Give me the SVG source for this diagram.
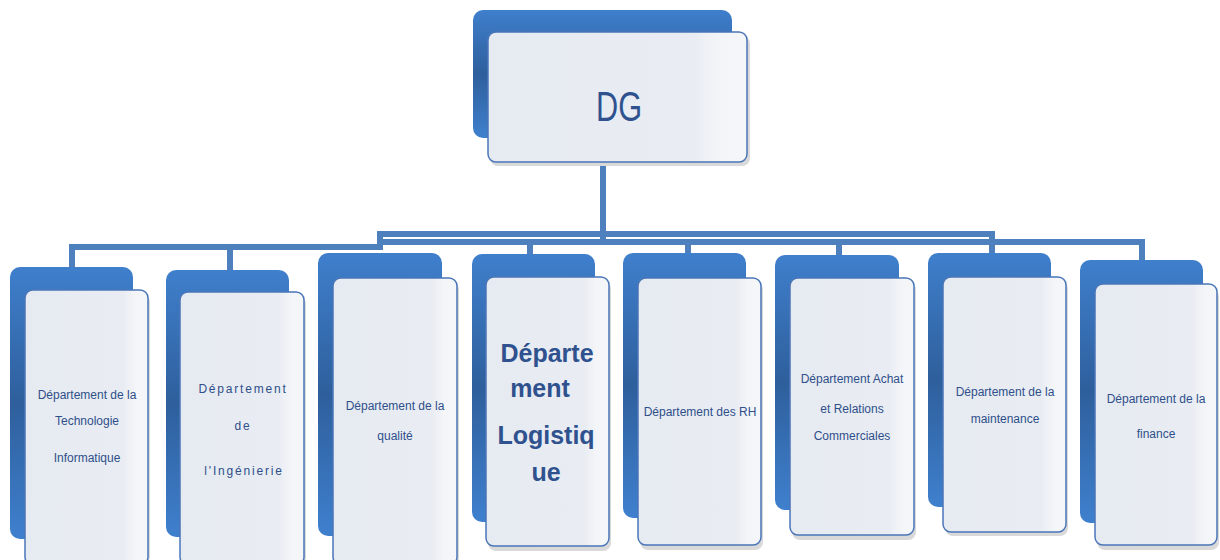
<svg xmlns="http://www.w3.org/2000/svg" width="1220" height="560" viewBox="0 0 1220 560">
<defs>
<linearGradient id="backG" x1="0" y1="0" x2="0" y2="1">
<stop offset="0" stop-color="#3f7fcc"/>
<stop offset="0.5" stop-color="#2e5f9c"/>
<stop offset="1" stop-color="#3f80ce"/>
</linearGradient>
<linearGradient id="frontG" x1="0" y1="0" x2="1" y2="0">
<stop offset="0" stop-color="#e6eaf1"/>
<stop offset="0.8" stop-color="#e9edf3"/>
<stop offset="0.9" stop-color="#f4f5f8"/>
<stop offset="1" stop-color="#f5f6f8"/>
</linearGradient>
</defs>
<style>
.back{fill:url(#backG);}
.shadow{fill:#d9d9d9;}
.front{fill:url(#frontG);stroke:#4a76b8;stroke-width:1.5;}
.conn{fill:none;stroke:#4f80be;stroke-width:6;stroke-linejoin:miter;}
.t{font-family:"Liberation Sans",Arial,sans-serif;font-size:12px;fill:#2f4f8a;text-anchor:middle;}
.ts{letter-spacing:1.8px;}
.big{font-family:"Liberation Sans",Arial,sans-serif;font-size:25px;font-weight:bold;fill:#2f528f;text-anchor:middle;}
.dg{font-family:"Liberation Sans",Arial,sans-serif;font-size:42px;fill:#2f528f;text-anchor:middle;}
</style>
<rect width="1220" height="560" fill="#ffffff"/>
<g id="connectors">
<path class="conn" d="M603 162 V242"/>
<path class="conn" d="M72 268 V247 H380 V234 H992 V255"/>
<path class="conn" d="M380 242 H1142 V262"/>
<path class="conn" d="M230 247 V270"/>
<path class="conn" d="M530 242 V254"/>
<path class="conn" d="M688 242 V255"/>
<path class="conn" d="M839 242 V256"/>
</g>
<g id="node-dg">
<rect class="back" x="473" y="10" width="259" height="128" rx="10"/>
<rect class="shadow" x="490" y="36" width="260" height="130" rx="8"/>
<rect class="front" x="488" y="32" width="259" height="130" rx="8"/>
<text class="dg" x="619" y="121" textLength="46" lengthAdjust="spacingAndGlyphs">DG</text>
</g>
<g id="node-ti">
<rect class="back" x="10" y="267" width="123" height="272" rx="10"/>
<rect class="shadow" x="27" y="294" width="123" height="270" rx="8"/>
<rect class="front" x="25" y="290" width="123" height="275" rx="8"/>
<text class="t" x="87" y="399">Département de la</text>
<text class="t" x="87" y="425">Technologie</text>
<text class="t" x="87" y="462">Informatique</text>
</g>
<g id="node-ing">
<rect class="back" x="166" y="270" width="123" height="267" rx="10"/>
<rect class="shadow" x="182" y="296" width="124" height="270" rx="8"/>
<rect class="front" x="180" y="292" width="124" height="273" rx="8"/>
<text class="t ts" x="243" y="393">Département</text>
<text class="t ts" x="243" y="430">de</text>
<text class="t ts" x="244" y="475">l'Ingénierie</text>
</g>
<g id="node-qual">
<rect class="back" x="318" y="253" width="124" height="283" rx="10"/>
<rect class="shadow" x="335" y="282" width="124" height="284" rx="8"/>
<rect class="front" x="333" y="278" width="124" height="287" rx="8"/>
<text class="t" x="395" y="410">Département de la</text>
<text class="t" x="395" y="440">qualité</text>
</g>
<g id="node-log">
<rect class="back" x="472" y="254" width="123" height="268" rx="10"/>
<rect class="shadow" x="488" y="281" width="123" height="270" rx="8"/>
<rect class="front" x="486" y="277" width="123" height="269" rx="8"/>
<text class="big" x="547" y="362">Départe</text>
<text class="big" x="540" y="397">ment</text>
<text class="big" x="546" y="444">Logistiq</text>
<text class="big" x="546" y="481">ue</text>
</g>
<g id="node-rh">
<rect class="back" x="623" y="253" width="123" height="265" rx="10"/>
<rect class="shadow" x="640" y="282" width="123" height="268" rx="8"/>
<rect class="front" x="638" y="278" width="123" height="267" rx="8"/>
<text class="t" x="700" y="416">Département des RH</text>
</g>
<g id="node-achat">
<rect class="back" x="775" y="255" width="124" height="255" rx="10"/>
<rect class="shadow" x="792" y="282" width="124" height="258" rx="8"/>
<rect class="front" x="790" y="278" width="124" height="257" rx="8"/>
<text class="t" x="852" y="383">Département Achat</text>
<text class="t" x="852" y="413">et Relations</text>
<text class="t" x="852" y="440">Commerciales</text>
</g>
<g id="node-maint">
<rect class="back" x="928" y="253" width="123" height="254" rx="10"/>
<rect class="shadow" x="945" y="281" width="123" height="255" rx="8"/>
<rect class="front" x="943" y="277" width="123" height="255" rx="8"/>
<text class="t" x="1005" y="396">Département de la</text>
<text class="t" x="1005" y="423">maintenance</text>
</g>
<g id="node-fin">
<rect class="back" x="1080" y="260" width="123" height="263" rx="10"/>
<rect class="shadow" x="1097" y="289" width="122" height="261" rx="8"/>
<rect class="front" x="1095" y="284" width="122" height="261" rx="8"/>
<text class="t" x="1156" y="403">Département de la</text>
<text class="t" x="1156" y="438">finance</text>
</g>
</svg>
